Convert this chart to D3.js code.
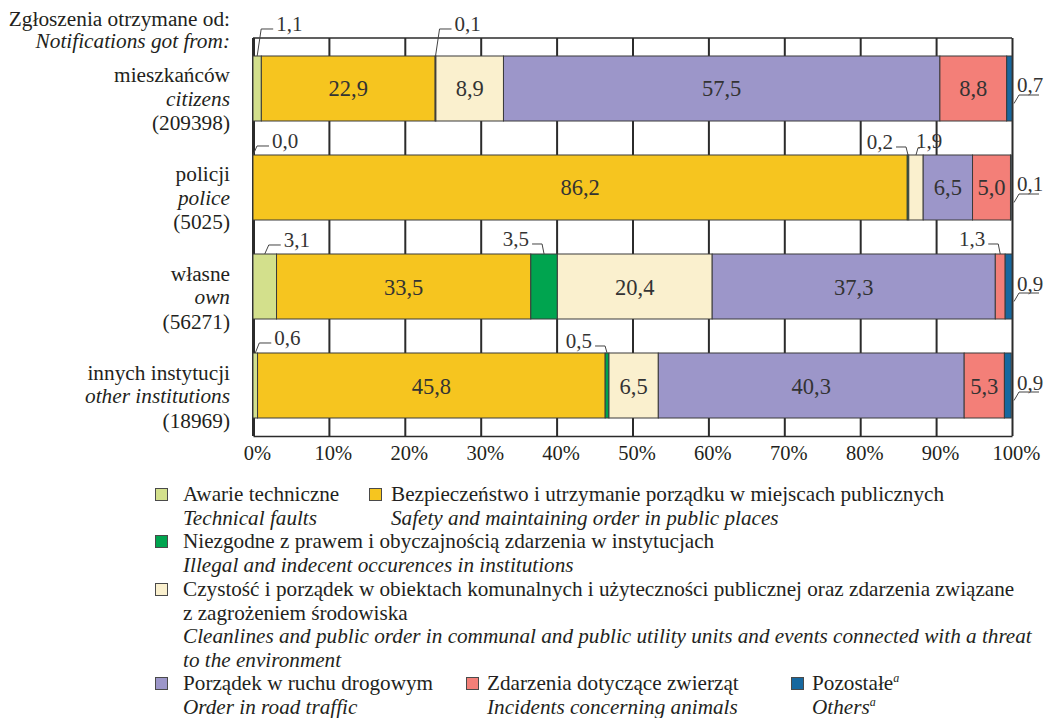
<!DOCTYPE html>
<html>
<head>
<meta charset="utf-8">
<script src="https://cdn.jsdelivr.net/npm/d3@7"></script>
<style>
  html, body { margin: 0; padding: 0; background: #fff; }
  svg { display: block; font-family: "Liberation Serif", "Times New Roman", serif; }
</style>
</head>
<body>
<svg id="chart" width="1047" height="718"></svg>
<script>
// Groups (source of notification)
const groupKeys = ["citizens", "police", "own", "other"];
const groupPl = ["mieszkańców", "policji", "własne", "innych instytucji"];
const groupEn = ["citizens", "police", "own", "other institutions"];
const groupCount = ["(209398)", "(5025)", "(56271)", "(18969)"];

// Share of each category, in percent, per group
const technical   = [1.1, 0.0, 3.1, 0.6];
const safety      = [22.9, 86.2, 33.5, 45.8];
const illegal     = [0.1, 0.2, 3.5, 0.5];
const cleanliness = [8.9, 1.9, 20.4, 6.5];
const traffic     = [57.5, 6.5, 37.3, 40.3];
const animals     = [8.8, 5.0, 1.3, 5.3];
const others      = [0.7, 0.1, 0.9, 0.9];

const tickValues = [0, 10, 20, 30, 40, 50, 60, 70, 80, 90, 100];
const tickLabels = ["0%", "10%", "20%", "30%", "40%", "50%", "60%", "70%", "80%", "90%", "100%"];

const seriesKeys = ["technical", "safety", "illegal", "cleanliness", "traffic", "animals", "others"];
const seriesValues = [technical, safety, illegal, cleanliness, traffic, animals, others];
const seriesColors = ["#d3e08c", "#f6c51f", "#00a44f", "#faf0ce", "#9c96c9", "#f37f78", "#17689f"];

// Legend entries: polish / english lines
const legendPl = [
  ["Awarie techniczne"],
  ["Bezpieczeństwo i utrzymanie porządku w miejscach publicznych"],
  ["Niezgodne z prawem i obyczajnością zdarzenia w instytucjach"],
  ["Czystość i porządek w obiektach komunalnych i użyteczności publicznej oraz zdarzenia związane", "z zagrożeniem środowiska"],
  ["Porządek w ruchu drogowym"],
  ["Zdarzenia dotyczące zwierząt"],
  ["Pozostałe"]
];
const legendEn = [
  ["Technical faults"],
  ["Safety and maintaining order in public places"],
  ["Illegal and indecent occurences in institutions"],
  ["Cleanlines and public order in communal and public utility units and events connected with a threat", "to the environment"],
  ["Order in road traffic"],
  ["Incidents concerning animals"],
  ["Others"]
];

// Placement of value labels that do not fit inside their segment
const callouts = [
  { group: "citizens", key: "technical", side: "right", lift: 27 },
  { group: "citizens", key: "illegal", side: "right", lift: 27 },
  { group: "citizens", key: "others", side: "edge" },
  { group: "police", key: "technical", side: "right", lift: 9 },
  { group: "police", key: "illegal", side: "left", lift: 8 },
  { group: "police", key: "cleanliness", side: "up", lift: 8 },
  { group: "police", key: "others", side: "edge" },
  { group: "own", key: "technical", side: "right", lift: 9 },
  { group: "own", key: "illegal", side: "left", lift: 10 },
  { group: "own", key: "animals", side: "left", lift: 10 },
  { group: "own", key: "others", side: "edge" },
  { group: "other", key: "technical", side: "right", lift: 10 },
  { group: "other", key: "illegal", side: "left", lift: 7 },
  { group: "other", key: "others", side: "edge" }
];

const ink = "#231f20";
const labelInk = "#333";
const fmt = v => d3.format(".1f")(v).replace(".", ",");

const rows = groupKeys.map((g, i) => {
  const r = { group: g };
  seriesKeys.forEach((k, j) => { r[k] = seriesValues[j][i]; });
  return r;
});

const svg = d3.select("#chart");

const x = d3.scaleLinear().domain([0, 100]).range([253, 1012]);
const y = d3.scaleBand().domain(groupKeys).range([38, 436])
  .paddingInner(0.3434).paddingOuter(0.1818);
const color = d3.scaleOrdinal().domain(seriesKeys).range(seriesColors);

// Grid lines and the percent axis
const axis = svg.append("g")
  .attr("transform", `translate(0,436)`)
  .call(d3.axisBottom(x)
    .tickValues(tickValues)
    .tickFormat((d, i) => tickLabels[i])
    .tickSizeInner(-(436 - 38))
    .tickSizeOuter(0)
    .tickPadding(9));
axis.attr("font-family", null);
axis.select(".domain").attr("stroke", "#2b2b2b").attr("stroke-width", 1.5);
axis.selectAll(".tick line")
  .attr("stroke", "#2b2b2b")
  .attr("stroke-width", d => d === 0 ? 3 : 2);
axis.selectAll(".tick text")
  .attr("fill", ink)
  .attr("dx", 4)
  .style("font-family", "'Liberation Serif', 'Times New Roman', serif")
  .style("font-size", "20.5px");

svg.append("line")
  .attr("x1", x(0)).attr("x2", x(100))
  .attr("y1", 38).attr("y2", 38)
  .attr("stroke", "#2b2b2b").attr("stroke-width", 1.5);

// Stacked bars
const stacked = d3.stack().keys(seriesKeys)(rows);

const layers = svg.append("g").selectAll("g")
  .data(stacked)
  .join("g")
  .attr("fill", d => color(d.key));

layers.selectAll("rect")
  .data(d => d.map(p => ({ key: d.key, group: p.data.group, x0: p[0], x1: p[1] })))
  .join("rect")
  .attr("x", d => x(d.x0))
  .attr("y", d => y(d.group))
  .attr("width", d => Math.max(0, x(d.x1) - x(d.x0)))
  .attr("height", y.bandwidth())
  .attr("stroke", "#3a3a3a")
  .attr("stroke-width", 1);

// Values printed inside wide segments
const segs = stacked.flatMap(s => s.map(p => ({
  key: s.key, group: p.data.group, x0: p[0], x1: p[1], v: p.data[s.key]
})));

svg.append("g").selectAll("text")
  .data(segs.filter(d => d.v >= 5))
  .join("text")
  .attr("x", d => x((d.x0 + d.x1) / 2))
  .attr("y", d => y(d.group) + y.bandwidth() / 2 + 8)
  .attr("text-anchor", "middle")
  .attr("fill", labelInk)
  .style("font-size", "22.5px")
  .text(d => fmt(d.v));

// Values of narrow segments with leader lines
const cg = svg.append("g");
callouts.forEach(c => {
  const s = segs.find(d => d.group === c.group && d.key === c.key);
  const cx = x((s.x0 + s.x1) / 2);
  const top = y(c.group);
  let pts, tx, ty, anchor;
  if (c.side === "right") {
    const ey = top - c.lift;
    pts = [[cx, top], [cx + 4, ey], [cx + 16, ey]];
    tx = cx + 19; ty = ey + 2; anchor = "start";
  } else if (c.side === "up") {
    const ey = top - c.lift;
    pts = [[cx, top], [cx + 2, ey + 1], [cx + 4, ey + 1]];
    tx = cx; ty = ey + 1; anchor = "start";
  } else if (c.side === "left") {
    const ey = top - c.lift;
    pts = [[cx, top], [cx - 2, ey], [cx - 12, ey]];
    tx = cx - 15; ty = ey + 2; anchor = "end";
  } else {
    const mid = top + y.bandwidth() / 2;
    const xe = x(100);
    pts = [[xe + 2, mid + 15], [xe + 7, mid + 6.5], [xe + 27, mid + 6.5]];
    tx = xe + 18; ty = mid + 4; anchor = "middle";
  }
  cg.append("path")
    .attr("d", d3.line()(pts))
    .attr("fill", "none")
    .attr("stroke", "#444")
    .attr("stroke-width", 1);
  cg.append("text")
    .attr("x", tx).attr("y", ty)
    .attr("text-anchor", anchor)
    .attr("fill", labelInk)
    .style("font-size", "21px")
    .text(fmt(s.v));
});

// Header above the group labels
const head = svg.append("g").attr("text-anchor", "end").attr("fill", ink).style("font-size", "21.3px");
head.append("text").attr("x", 230).attr("y", 26).text("Zgłoszenia otrzymane od:");
head.append("text").attr("x", 230).attr("y", 48).style("font-style", "italic").text("Notifications got from:");

// Group labels
const gl = svg.append("g").attr("text-anchor", "end").attr("fill", ink).style("font-size", "21.3px");
groupKeys.forEach((g, i) => {
  const mid = y(g) + y.bandwidth() / 2;
  gl.append("text").attr("x", 230).attr("y", mid - 6).text(groupPl[i]);
  gl.append("text").attr("x", 230).attr("y", mid + 17.5).style("font-style", "italic").text(groupEn[i]);
  gl.append("text").attr("x", 230).attr("y", mid + 42).text(groupCount[i]);
});

// Legend
const legendPos = [
  { x: 155, tx: 183, y: 501 }, { x: 369, tx: 391, y: 501 },
  { x: 155, tx: 183, y: 548 },
  { x: 155, tx: 183, y: 596 },
  { x: 155, tx: 183, y: 690 }, { x: 466, tx: 487, y: 690 }, { x: 791, tx: 812, y: 690 }
];
const lineStep = 23.5;
const lg = svg.append("g").attr("fill", ink).style("font-size", "21.2px");
seriesKeys.forEach((k, i) => {
  const p = legendPos[i];
  lg.append("rect")
    .attr("x", p.x + 0.5).attr("y", p.y - 12.5)
    .attr("width", 12).attr("height", 12)
    .attr("fill", color(k))
    .attr("stroke", "#4a4a4a").attr("stroke-width", 1);
  let line = 0;
  legendPl[i].forEach(t => {
    const el = lg.append("text").attr("x", p.tx).attr("y", p.y + line * lineStep).text(t);
    if (k === "others") el.append("tspan").attr("dy", -8).style("font-size", "12px").style("font-style", "italic").text("a");
    line++;
  });
  legendEn[i].forEach(t => {
    const el = lg.append("text").attr("x", p.tx).attr("y", p.y + line * lineStep)
      .style("font-style", "italic").text(t);
    if (k === "others") el.append("tspan").attr("dy", -8).style("font-size", "12px").text("a");
    line++;
  });
});
</script>
</body>
</html>
